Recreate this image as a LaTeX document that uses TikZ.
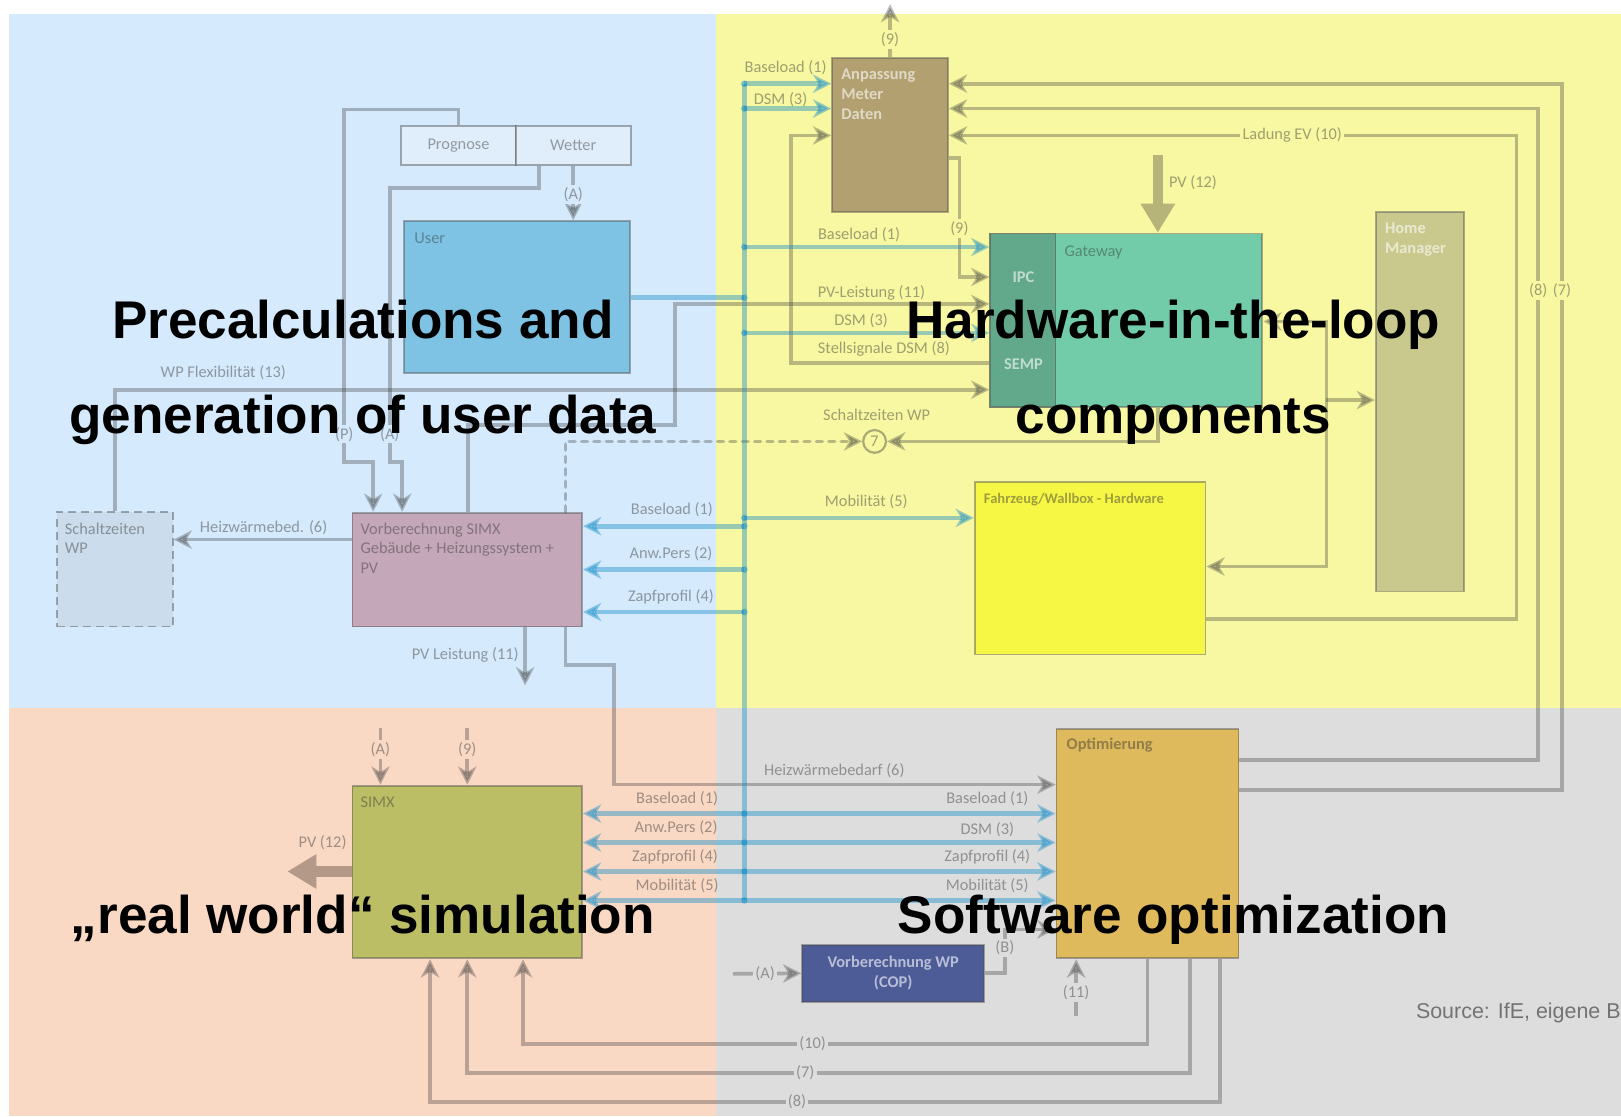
\documentclass[tikz,border=0pt]{standalone}
\usepackage{fontspec}
\newfontfamily\carlito{Carlito}
\newfontfamily\headfont{Liberation Sans}
\usetikzlibrary{arrows.meta}
\definecolor{bgblue}{RGB}{213,234,252}
\definecolor{bgyellow}{RGB}{248,248,162}
\definecolor{bgorange}{RGB}{249,216,196}
\definecolor{bggray}{RGB}{221,221,221}
\definecolor{linegray}{RGB}{55,55,55}
\definecolor{busblue}{RGB}{20,140,200}
\definecolor{fatyellow}{RGB}{182,180,120}
\definecolor{fatorange}{RGB}{180,152,136}
\definecolor{progfill}{RGB}{224,238,251}
\definecolor{userfill}{RGB}{126,195,227}
\definecolor{schaltfill}{RGB}{203,220,236}
\definecolor{vsimxfill}{RGB}{196,168,186}
\definecolor{anpfill}{RGB}{178,160,112}
\definecolor{gwfill}{RGB}{114,204,170}
\definecolor{ipcfill}{RGB}{98,168,138}
\definecolor{hmfill}{RGB}{201,201,142}
\definecolor{fzgfill}{RGB}{246,246,69}
\definecolor{simxfill}{RGB}{187,190,101}
\definecolor{optfill}{RGB}{223,186,92}
\definecolor{vwpfill}{RGB}{77,92,151}
\tikzset{
  blk/.style={draw=black!70, draw opacity=0.45, line width=0.5pt, inner sep=0pt},
  lab/.style={font=\carlito\fontsize{4.5}{5.4}\selectfont, text=black!80, text opacity=0.45, inner sep=0.6pt},
  cut/.style={lab, fill=#1},
  lightlab/.style={lab, text=white, text opacity=0.6, font=\carlito\bfseries\fontsize{4.5}{5.5}\selectfont},
  gl/.style={draw=linegray, line width=1pt, opacity=0.33},
  bl/.style={draw=busblue, line width=1.3pt, opacity=0.42},
  fat/.style={line width=2.8pt, -{Triangle[length=8pt,width=9pt]}},
  head/.style={font=\headfont\bfseries\fontsize{14.6}{17}\selectfont, anchor=base, inner sep=0pt}
}
\begin{document}
\begin{tikzpicture}[x=0.01cm, y=-0.01cm, >={Stealth[length=5pt,width=5pt,inset=1.5pt]}]
\useasboundingbox (0,0) rectangle (1568,1080);
% quadrants
\fill[bgblue] (9,14) rectangle (693,685);
\fill[bgyellow] (693,14) rectangle (1568,685);
\fill[bgorange] (9,685) rectangle (693,1080);
\fill[bggray] (693,685) rectangle (1568,1080);

% boxes
\node[blk, lab, fill=progfill, minimum width=1.11cm, minimum height=0.38cm] (prog) at (443.5,141) {Prognose};
\node[blk, lab, fill=progfill, minimum width=1.11cm, minimum height=0.38cm] (wetter) at (554.5,141) {Wetter};
\node[blk, fill=userfill, minimum width=2.18cm, minimum height=1.47cm] (user) at (500,287.5) {};
\node[lab, anchor=west] (userlab) at (398,231) {User};
\node[blk, fill=schaltfill, dashed, dash pattern=on 2.2pt off 1.4pt, minimum width=1.12cm, minimum height=1.11cm] (schalt) at (111,550.5) {};
\node[lab, anchor=north west, align=left] (schaltlab) at (60,503) {Schaltzeiten\\WP};
\node[blk, fill=vsimxfill, minimum width=2.22cm, minimum height=1.10cm] (vsimx) at (452,551) {};
\node[lab, anchor=north west, align=left] (vsimxlab) at (346,503) {Vorberechnung SIMX\\Geb\"aude + Heizungssystem +\\PV};
\node[blk, fill=anpfill, minimum width=1.12cm, minimum height=1.49cm] (anp) at (861,130.5) {};
\node[lightlab, anchor=north west, align=left] (anplab) at (811,64) {Anpassung\\Meter\\Daten};
\node[blk, fill=gwfill, minimum width=2.63cm, minimum height=1.68cm] (gw) at (1089.5,310) {};
\node[blk, fill=ipcfill, minimum width=0.63cm, minimum height=1.68cm] (ipc) at (989.5,310) {};
\node[lab, anchor=west] (gwlab) at (1027,244) {Gateway};
\node[lightlab] (ipclab) at (990,268) {IPC};
\node[lightlab] (semplab) at (990,352) {SEMP};
\node[blk, fill=hmfill, minimum width=0.85cm, minimum height=3.67cm] (hm) at (1373.5,388.5) {};
\node[lightlab, anchor=north west, align=left] (hmlab) at (1337,213) {Home\\Manager};
\node[blk, fill=fzgfill, minimum width=2.23cm, minimum height=1.67cm] (fzg) at (1054.5,549.5) {};
\node[lab, anchor=west, font=\carlito\bfseries\fontsize{4}{5}\selectfont] (fzglab) at (949,483) {Fahrzeug/Wallbox - Hardware};
\node[blk, fill=simxfill, minimum width=2.22cm, minimum height=1.67cm] (simx) at (452,843.5) {};
\node[lab, anchor=west] (simxlab) at (346,776) {SIMX};
\node[blk, fill=optfill, minimum width=1.76cm, minimum height=2.22cm] (opt) at (1110,816) {};
\node[lab, anchor=west, font=\carlito\bfseries\fontsize{4.5}{5.4}\selectfont] (optlab) at (1029,721) {Optimierung};
\node[blk, fill=vwpfill, minimum width=1.76cm, minimum height=0.55cm, lightlab, align=center] (vwp) at (864,941.5) {Vorberechnung WP\\(COP)};
\node[circle, draw=linegray, draw opacity=0.4, line width=0.6pt, minimum size=0.22cm, lab] (c7) at (846,427) {7};

% gray connectors, top left
\draw[gl,->] (prog.north) |- (333,106) -- (333,447) -| (vsimx.north -| 361,0);
\draw[gl,->] ([xshift=0.23cm]wetter.south west) |- (377,182) -- (377,447) -| (vsimx.north -| 389,0);
\draw[gl,->] (wetter.south) -- (wetter.south |- user.north);
\node[cut=bgblue] at (554.5,188) {(A)};
\node[cut=bgblue] at (333,420) {(P)};
\node[cut=bgblue] at (377,420) {(A)};
\draw[gl,->] (schalt.north) |- (gw.west |- 0,377);
\node[lab] at (216,360) {WP Flexibilit\"at (13)};
\draw[gl,->] (vsimx.west |- 0,522) -- (schalt.east |- 0,522);
\node[lab] at (255,510) {Heizw\"armebed. (6)};
\draw[gl,->] (vsimx.north -| 453,0) |- (653,411) |- (gw.west |- 0,294);
\node[lab] at (843,283) {PV-Leistung (11)};
\draw[gl,->] (vsimx.south -| 508,0) -- (508,663);
\node[lab] at (450,634) {PV Leistung (11)};

% circle 7
\draw[gl, dash pattern=on 1.6pt off 1.8pt, line cap=round, ->] (vsimx.north -| 547,0) |- (c7.west);
\draw[gl,->] (gw.south -| 1120,0) |- (c7.east);
\node[lab] at (848,401) {Schaltzeiten WP};

% hardware loop
\draw[gl,->] (gw.west |- 0,351) -| (765,131) -- (anp.west |- 0,131);
\node[lab] at (855,338) {Stellsignale DSM (8)};
\draw[gl,->] (anp.east |- 0,153) -| (928,268) -- (ipc.west |- 0,268);
\node[cut=bgyellow] at (928,221) {(9)};
\draw[gl,->] (anp.north) -- (861,4);
\node[cut=bgyellow] at (861,38) {(9)};
\draw[fat, draw=fatyellow, fill=fatyellow] (1120,150) -- (gw.north -| 1120,0);
\node[lab, anchor=west] at (1128,177) {PV (12)};
\draw[gl,->] (fzg.east |- 0,599) -| (1467,131) -- (anp.east |- 0,131);
\node[cut=bgyellow] at (1250,131) {Ladung EV (10)};
\draw[gl,->] (opt.east |- 0,735) -| (1488,105) -- (anp.east |- 0,105);
\draw[gl,->] (opt.east |- 0,764) -| (1511,81) -- (anp.east |- 0,81);
\node[cut=bgyellow] at (1488,281) {(8)};
\node[cut=bgyellow] at (1511,281) {(7)};
\draw[gl,<->] (gw.east |- 0,311) -| (1283,548) -- (fzg.east |- 0,548);
\draw[gl,->] (1283,387) -- (hm.west |- 0,387);

% simulation and optimisation
\draw[gl,->] (vsimx.south -| 547,0) |- (594,643) -- (594,759) -- (opt.west |- 0,759);
\node[lab] at (807,745) {Heizw\"armebedarf (6)};
\draw[gl,->] (368,704) -- (simx.north -| 368,0);
\draw[gl,->] (452,704) -- (simx.north -| 452,0);
\node[cut=bgorange] at (368,725) {(A)};
\node[cut=bgorange] at (452,725) {(9)};
\draw[fat, draw=fatorange, fill=fatorange] (simx.west |- 0,843) -- (278,843);
\node[lab] at (312,815) {PV (12)};
\draw[gl,->] (opt.south -| 1110,0) |- (506,1010) -- (simx.south -| 506,0);
\draw[gl,->] (opt.south -| 1151,0) |- (452,1038) -- (simx.south -| 452,0);
\draw[gl,->] (opt.south -| 1180,0) |- (416,1066) -- (simx.south -| 416,0);
\node[cut=bggray] at (786,1010) {(10)};
\node[cut=bggray] at (779,1038) {(7)};
\node[cut=bggray] at (771,1066) {(8)};
\draw[gl,->] (709,942) -- (vwp.west);
\node[cut=bggray] at (740,942) {(A)};
\draw[gl,->] (vwp.east) -| (972,899) -- (opt.west |- 0,899);
\node[cut=bggray] at (972,917) {(B)};
\draw[gl,->] (1041,983) -- (opt.south -| 1041,0);
\node[cut=bggray] at (1041,960) {(11)};

% blue data bus
\draw[bl] (720,81) -- (720,871);
\draw[bl] (user.east |- 0,288) -- (720,288);
\foreach \y in {81,105} \draw[bl,->] (720,\y) -- (anp.west |- 0,\y);
\foreach \y in {239,322} \draw[bl,->] (720,\y) -- (gw.west |- 0,\y);
\draw[bl,->] (720,501) -- (fzg.west |- 0,501);
\foreach \y in {509,551,592} \draw[bl,->] (720,\y) -- (vsimx.east |- 0,\y);
\foreach \y in {787,815,843,871} \draw[bl,<->] (simx.east |- 0,\y) -- (opt.west |- 0,\y);
\foreach \y in {81,105,239,288,322,501,509,551,592,787,815,843,871}
  \fill[busblue, opacity=0.5] (720,\y) circle (0.9pt);
\node[lab] at (760,65) {Baseload (1)};
\node[lab] at (755,96) {DSM (3)};
\node[lab] at (831,227) {Baseload (1)};
\node[lab] at (833,310) {DSM (3)};
\node[lab] at (838,485) {Mobilit\"at (5)};
\node[lab] at (650,493) {Baseload (1)};
\node[lab] at (649,536) {Anw.Pers (2)};
\node[lab] at (649,577) {Zapfprofil (4)};
\node[lab] at (655,773) {Baseload (1)};
\node[lab] at (654,801) {Anw.Pers (2)};
\node[lab] at (653,829) {Zapfprofil (4)};
\node[lab] at (655,857) {Mobilit\"at (5)};
\node[lab] at (955,773) {Baseload (1)};
\node[lab] at (955,803) {DSM (3)};
\node[lab] at (955,829) {Zapfprofil (4)};
\node[lab] at (955,857) {Mobilit\"at (5)};

\node[anchor=base west, font=\headfont\fontsize{5.9}{7}\selectfont, text=black!55, inner sep=0pt] (source) at (1369,985) {Source: IfE, eigene Be};

% headings
\node[head] (precalcA) at (351,327) {Precalculations and};
\node[head] (precalcB) at (351,419) {generation of user data};
\node[head] (hilA) at (1135,327) {Hardware-in-the-loop};
\node[head] (hilB) at (1135,419) {components};
\node[head] (realsim) at (351,903) {\char"201E real world\char"201C{} simulation};
\node[head] (softopt) at (1135,903) {Software optimization};
\end{tikzpicture}
\end{document}
